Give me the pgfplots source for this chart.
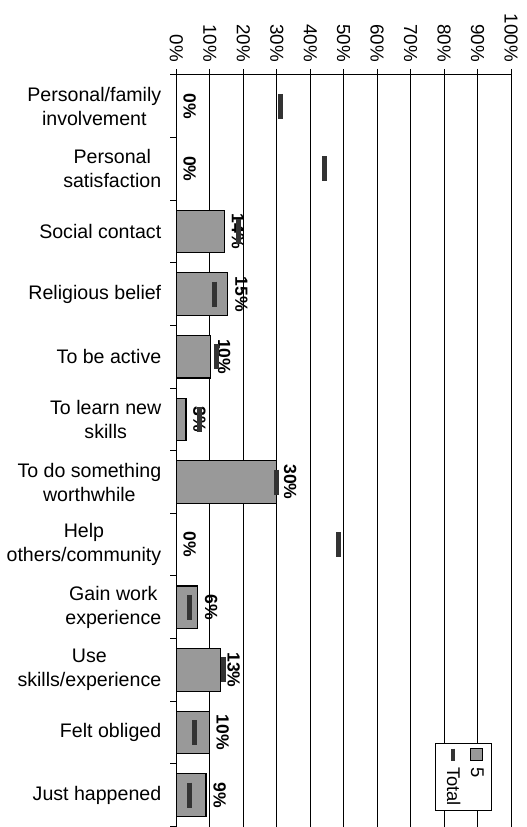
\documentclass[border=0pt]{standalone}
\usepackage{fontspec}
\setmainfont{Liberation Sans}
\usepackage{pgfplots}
\pgfplotsset{compat=1.18}
\definecolor{barfill}{HTML}{999999}
\definecolor{totmark}{HTML}{333333}

\begin{document}
\begin{tikzpicture}
\begin{axis}[
    width=167.5pt, height=376pt, scale only axis,
    xmin=0, xmax=100, ymin=-0.5, ymax=11.5,
    axis x line*=top, axis y line*=left,
    axis line style={black, line width=0.5pt},
    xtick={0,10,...,100},
    xticklabels={0\%,10\%,20\%,30\%,40\%,50\%,60\%,70\%,80\%,90\%,100\%},
    xticklabel style={rotate=-90, anchor=east, font=\fontsize{9.4}{11}\selectfont},
    xmajorgrids, grid style={black, line width=0.5pt},
    ytick={-0.5,0.5,...,11.5},
    y tick label as interval,
    yticklabels={Just happened, Felt obliged, {Use\\skills/experience}, {Gain work\\experience},
        {Help\\others/community}, {To do something\\worthwhile}, {To learn new\\skills},
        To be active, Religious belief, Social contact, {Personal\\satisfaction},
        {Personal/family\\involvement}},
    yticklabel style={align=center, font=\fontsize{9.8}{12}\selectfont, xshift=-1pt},
    tick align=outside, major tick length=3pt,
    tick style={black, line width=0.5pt},
    clip=false,
]
% 5
\addplot[xbar, bar width=21.3pt, fill=barfill, draw=black, line width=0.6pt,
    point meta=x,
    nodes near coords={\pgfmathprintnumber[fixed,precision=0]{\pgfplotspointmeta}\%},
    nodes near coords style={rotate=-90, anchor=south, black,
        font=\bfseries\fontsize{8.8}{10}\selectfont,
        /pgf/number format/assume math mode=true}]
coordinates {
(8.9,0) (9.8,1) (13.1,2) (6.4,3) (0,4) (30,5)
(2.9,6) (10.3,7) (15.4,8) (14.4,9) (0,10) (0,11)
};
% Total
\addplot[only marks, mark=|, mark size=6.25pt,
    mark options={line width=2.5pt, draw=totmark}]
coordinates {
(4,0) (5.5,1) (14.2,2) (3.8,3) (48.3,4) (30,5)
(6.8,6) (12.1,7) (11.3,8) (18.6,9) (44.2,10) (31.1,11)
};
% legend, turned like the rest of the chart
\node[draw=black, fill=white, line width=0.5pt, rotate=-90, anchor=north east,
    inner sep=2.5pt, font=\fontsize{9.2}{11}\selectfont]
    at (rel axis cs:0.943,0.02) {%
    \setlength{\fboxsep}{0pt}\setlength{\fboxrule}{0.5pt}%
    \begin{tabular}{@{}c@{\hspace{3pt}}l@{}}
    \fcolorbox{black}{barfill}{\rule{0pt}{5.5pt}\hspace{5.5pt}} & 5\\[1pt]
    \textcolor{totmark}{\rule[0.35ex]{6pt}{2.2pt}} & Total
    \end{tabular}};
\end{axis}
\path (current axis.south west) ++(-88pt,0pt) rectangle ++(263pt,413.5pt);
\end{tikzpicture}
\end{document}
